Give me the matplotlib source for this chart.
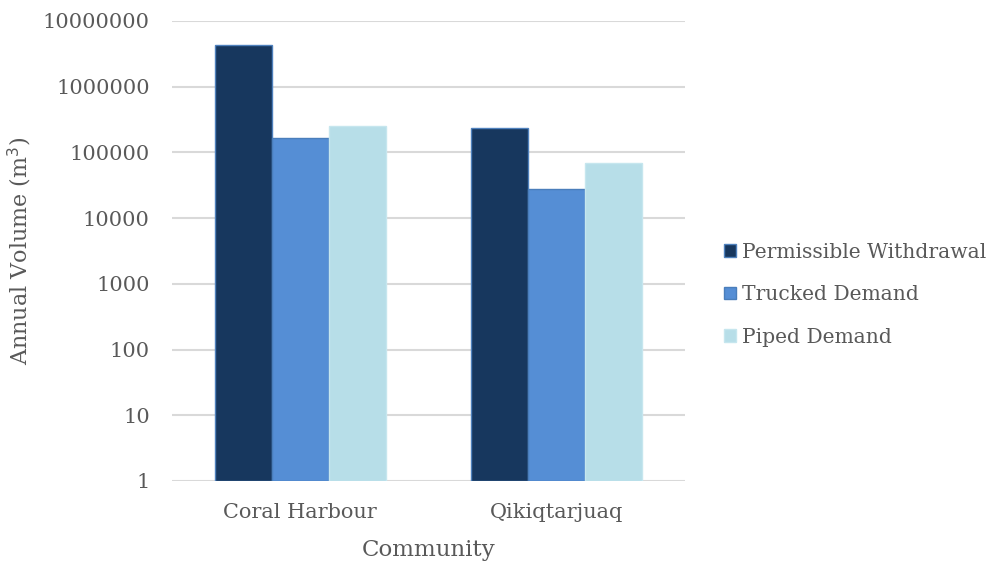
import matplotlib
matplotlib.use("Agg")
import matplotlib.pyplot as plt
import numpy as np

categories = ["Coral Harbour", "Qikiqtarjuaq"]
series_names = ["Permissible Withdrawal", "Trucked Demand", "Piped Demand"]
permissible = [4330000, 239000]
trucked = [163000, 27500]
piped = [256000, 68000]
tick_values = [1, 10, 100, 1000, 10000, 100000, 1000000, 10000000]
tick_labels = ["1", "10", "100", "1000", "10000", "100000", "1000000", "10000000"]

colors = ["#17375e", "#558ed5", "#b7dee8"]
edges = ["#4f81bd", "#4a7ebb", "#c6e6ee"]

plt.rcParams['font.family'] = ['DejaVu Serif']
fig = plt.figure(figsize=(9.94, 5.64), dpi=100)
ax = fig.add_axes([172/994, 1 - 481/564, (685-172)/994, (481-21)/564])

x = np.arange(len(categories))
w = 57/256
data = [permissible, trucked, piped]
for i, (vals, name) in enumerate(zip(data, series_names)):
    ax.bar(x + (i - 1) * w, vals, width=w, bottom=1, color=colors[i],
           edgecolor=edges[i], linewidth=1, label=name, zorder=3)

ax.set_yscale('log')
ax.set_ylim(1, 1e7)
ax.set_xlim(-0.5, 1.5)
ax.set_yticks(tick_values)
ax.set_yticklabels(tick_labels)
ax.yaxis.set_minor_locator(matplotlib.ticker.NullLocator())
ax.set_xticks(x)
ax.set_xticklabels(categories)
ax.tick_params(axis='both', length=0, labelsize=15, labelcolor='#595959')
ax.tick_params(axis='y', pad=16)
ax.tick_params(axis='x', pad=16)
ax.grid(axis='y', color='#d9d9d9', linewidth=1.5, zorder=0)
for s in ax.spines.values():
    s.set_visible(False)

ax.set_ylabel("Annual Volume (m$^3$)", fontsize=16, color='#595959', labelpad=6)
ax.set_xlabel("Community", fontsize=16.5, color='#595959', labelpad=12)

leg = ax.legend(loc='center left', bbox_to_anchor=(1.06, 0.405), frameon=False,
                fontsize=14.6, labelcolor='#595959', handlelength=0.6,
                handleheight=0.6, handletextpad=0.3, labelspacing=1.15,
                borderaxespad=0)

fig.savefig("out.png", dpi=100)
